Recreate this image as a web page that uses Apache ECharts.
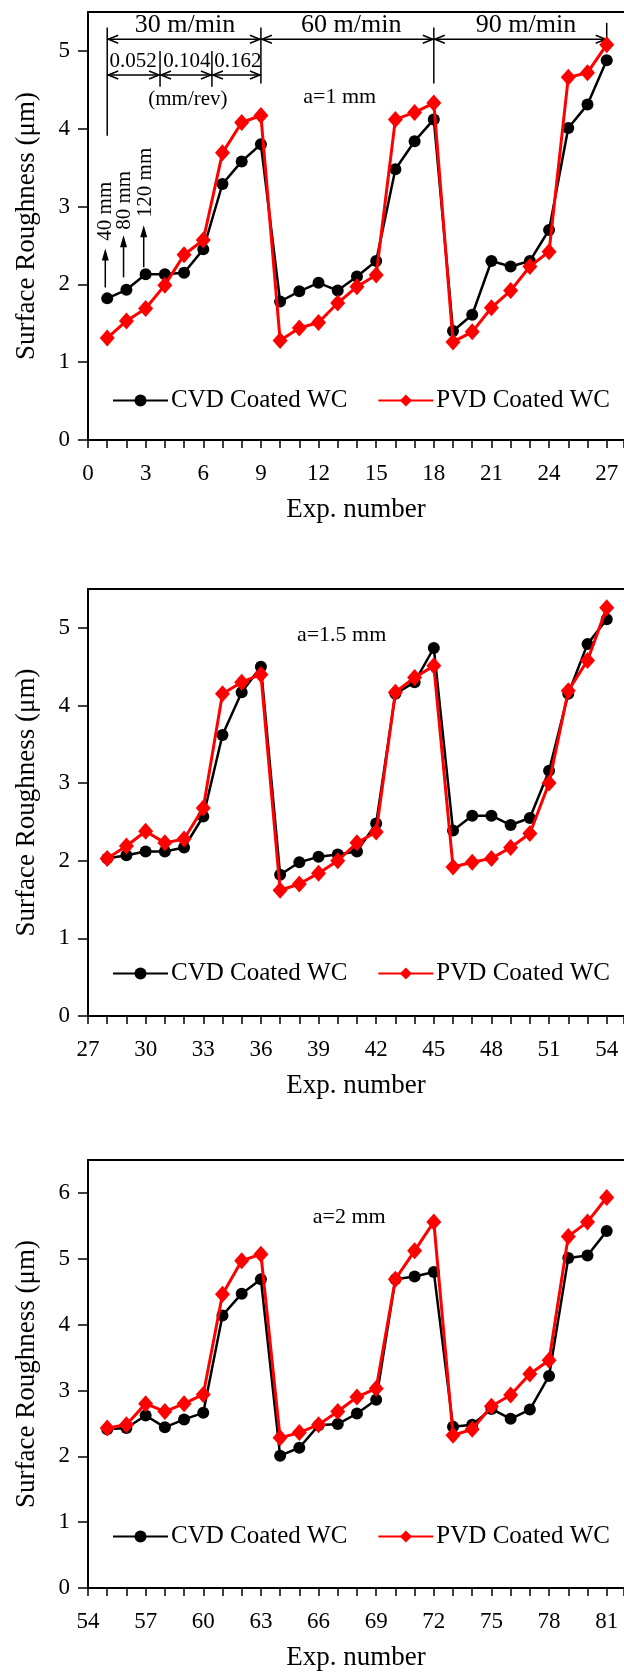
<!DOCTYPE html>
<html>
<head>
<meta charset="utf-8">
<script src="https://cdn.jsdelivr.net/npm/echarts@6/dist/echarts.min.js"></script>
<style>
  html, body { margin: 0; padding: 0; background: #fff; }
  #main { width: 624px; height: 1672px; }
</style>
</head>
<body>
<div id="main"></div>
<script>
// experiment numbers for each depth of cut
var exp1 = [1, 2, 3, 4, 5, 6, 7, 8, 9, 10, 11, 12, 13, 14, 15, 16, 17, 18, 19, 20, 21, 22, 23, 24, 25, 26, 27];
var exp2 = [28, 29, 30, 31, 32, 33, 34, 35, 36, 37, 38, 39, 40, 41, 42, 43, 44, 45, 46, 47, 48, 49, 50, 51, 52, 53, 54];
var exp3 = [55, 56, 57, 58, 59, 60, 61, 62, 63, 64, 65, 66, 67, 68, 69, 70, 71, 72, 73, 74, 75, 76, 77, 78, 79, 80, 81];

// surface roughness (um), a = 1 mm
var cvd1 = [1.82, 1.93, 2.13, 2.13, 2.15, 2.45, 3.29, 3.58, 3.80, 1.78, 1.91, 2.02, 1.92, 2.10, 2.30, 3.48, 3.84, 4.12, 1.40, 1.61, 2.30, 2.23, 2.30, 2.70, 4.01, 4.31, 4.88];
var pvd1 = [1.31, 1.53, 1.69, 1.99, 2.38, 2.57, 3.69, 4.08, 4.17, 1.28, 1.44, 1.51, 1.76, 1.97, 2.12, 4.12, 4.21, 4.33, 1.26, 1.39, 1.70, 1.92, 2.23, 2.42, 4.66, 4.72, 5.08];
// a = 1.5 mm
var cvd2 = [2.03, 2.07, 2.12, 2.12, 2.17, 2.57, 3.62, 4.17, 4.50, 1.82, 1.98, 2.05, 2.08, 2.12, 2.48, 4.15, 4.30, 4.74, 2.39, 2.58, 2.58, 2.46, 2.55, 3.16, 4.15, 4.79, 5.11];
var pvd2 = [2.03, 2.19, 2.38, 2.23, 2.28, 2.68, 4.15, 4.30, 4.40, 1.62, 1.70, 1.84, 2.00, 2.23, 2.37, 4.17, 4.36, 4.51, 1.92, 1.98, 2.03, 2.17, 2.35, 3.00, 4.19, 4.58, 5.26];
// a = 2 mm
var cvd3 = [2.41, 2.43, 2.62, 2.44, 2.56, 2.66, 4.14, 4.47, 4.69, 2.01, 2.13, 2.47, 2.49, 2.65, 2.86, 4.69, 4.73, 4.80, 2.45, 2.48, 2.72, 2.57, 2.71, 3.22, 5.01, 5.05, 5.42];
var pvd3 = [2.43, 2.48, 2.80, 2.68, 2.80, 2.94, 4.46, 4.97, 5.07, 2.28, 2.36, 2.48, 2.68, 2.90, 3.03, 4.69, 5.12, 5.56, 2.32, 2.41, 2.76, 2.93, 3.25, 3.46, 5.34, 5.56, 5.93];

// tick labels
var xLabels1 = [0, 3, 6, 9, 12, 15, 18, 21, 24, 27];
var xLabels2 = [27, 30, 33, 36, 39, 42, 45, 48, 51, 54];
var xLabels3 = [54, 57, 60, 63, 66, 69, 72, 75, 78, 81];
var yLabels12 = [0, 1, 2, 3, 4, 5];
var yLabels3 = [0, 1, 2, 3, 4, 5, 6];

var cvdName = 'CVD Coated WC';
var pvdName = 'PVD Coated WC';
var depthLabels = ['a=1 mm', 'a=1.5 mm', 'a=2 mm'];
var speedLabels = ['30 m/min', '60 m/min', '90 m/min'];
var feedLabels = ['0.052', '0.104', '0.162'];
var lengthLabels = ['40 mm', '80 mm', '120 mm'];

var FONT = '"Liberation Serif", "Times New Roman", serif';

var panels = [
  { top: 12, height: 428, xMin: 0, xMax: 27.9, yMax: 5.5, xLabels: xLabels1, yLabels: yLabels12, exp: exp1, cvd: cvd1, pvd: pvd1, legendTop: 388 },
  { top: 589, height: 427, xMin: 27, xMax: 54.9, yMax: 5.5, xLabels: xLabels2, yLabels: yLabels12, exp: exp2, cvd: cvd2, pvd: pvd2, legendTop: 961 },
  { top: 1160, height: 430, xMin: 54, xMax: 81.9, yMax: 6.5, xLabels: xLabels3, yLabels: yLabels3, exp: exp3, cvd: cvd3, pvd: pvd3, legendTop: 1524 }
];

function pairs(xs, ys) {
  return xs.map(function (x, i) { return [x, ys[i]]; });
}

var grids = [], xAxes = [], yAxes = [], series = [], legends = [];

panels.forEach(function (p, i) {
  grids.push({ left: 88, right: 0, top: p.top, height: p.height });
  xAxes.push({
    type: 'value', gridIndex: i, min: p.xMin, max: p.xMax, interval: 1,
    name: 'Exp. number', nameLocation: 'middle', nameGap: 56,
    nameTextStyle: { fontFamily: FONT, fontSize: 27, color: '#000' },
    axisLine: { lineStyle: { color: '#000', width: 2 } },
    axisTick: { length: 8, lineStyle: { color: '#000', width: 1.5 } },
    axisLabel: { customValues: p.xLabels, margin: 22, fontFamily: FONT, fontSize: 23, color: '#000' },
    splitLine: { show: false }
  });
  yAxes.push({
    type: 'value', gridIndex: i, min: 0, max: p.yMax, interval: 1,
    name: 'Surface Roughness (μm)', nameLocation: 'middle', nameGap: 48,
    nameTextStyle: { fontFamily: FONT, fontSize: 27, color: '#000' },
    axisLine: { show: true, lineStyle: { color: '#000', width: 2 } },
    axisTick: { show: true, length: 10, customValues: p.yLabels, lineStyle: { color: '#000', width: 1.5 } },
    axisLabel: { customValues: p.yLabels, margin: 18, fontFamily: FONT, fontSize: 23, color: '#000' },
    splitLine: { show: false }
  });
  series.push({
    type: 'line', name: cvdName, xAxisIndex: i, yAxisIndex: i,
    data: pairs(p.exp, p.cvd), symbol: 'circle', symbolSize: 12,
    itemStyle: { color: '#000' }, lineStyle: { color: '#000', width: 2.5 }, z: 3
  });
  series.push({
    type: 'line', name: pvdName, xAxisIndex: i, yAxisIndex: i,
    data: pairs(p.exp, p.pvd), symbol: 'diamond', symbolSize: [15, 17],
    itemStyle: { color: '#ff0000' }, lineStyle: { color: '#ff0000', width: 3 }, z: 4
  });
  legends.push({
    left: 112, top: p.legendTop, padding: 0, itemGap: 30, itemWidth: 55, itemHeight: 15,
    data: [cvdName, pvdName],
    textStyle: { fontFamily: FONT, fontSize: 25, color: '#000', padding: [0, 0, 0, -2] }
  });
});

// top frame lines
panels.forEach(function (p, i) {
  xAxes.push({
    type: 'value', gridIndex: i, position: 'top', min: p.xMin, max: p.xMax,
    axisLine: { show: true, onZero: false, lineStyle: { color: '#000', width: 2 } },
    axisTick: { show: false }, axisLabel: { show: false }, splitLine: { show: false }
  });
});

var chart = echarts.init(document.getElementById('main'));
chart.setOption({
  animation: false,
  backgroundColor: '#fff',
  grid: grids,
  xAxis: xAxes,
  yAxis: yAxes,
  legend: legends,
  series: series
});

// annotations, placed in data coordinates of each panel
function px(panel, x, y) {
  return chart.convertToPixel({ xAxisIndex: panel, yAxisIndex: panel }, [x, y]);
}
var g = [];
function text(panel, x, y, str, size, rot) {
  var p = px(panel, x, y);
  g.push({
    type: 'text', x: p[0], y: p[1], rotation: rot || 0,
    style: { text: str, fontFamily: FONT, fontSize: size, fill: '#000', align: 'center', verticalAlign: 'middle' }
  });
}
function seg(panel, x1, y1, x2, y2) {
  var a = px(panel, x1, y1), b = px(panel, x2, y2);
  g.push({ type: 'line', shape: { x1: a[0], y1: a[1], x2: b[0], y2: b[1] }, style: { stroke: '#000', lineWidth: 1.5 } });
}
function hArrow(panel, x1, x2, y) {
  var a = px(panel, x1, y), b = px(panel, x2, y);
  g.push({ type: 'line', shape: { x1: a[0], y1: a[1], x2: b[0], y2: b[1] }, style: { stroke: '#000', lineWidth: 1.5 } });
  g.push({ type: 'polyline', shape: { points: [[a[0] + 11, a[1] - 4], [a[0] + 1, a[1]], [a[0] + 11, a[1] + 4]] }, style: { stroke: '#000', lineWidth: 1.5, fill: null } });
  g.push({ type: 'polyline', shape: { points: [[b[0] - 11, b[1] - 4], [b[0] - 1, b[1]], [b[0] - 11, b[1] + 4]] }, style: { stroke: '#000', lineWidth: 1.5, fill: null } });
}
function upArrow(panel, x, y1, y2) {
  var a = px(panel, x, y1), b = px(panel, x, y2);
  g.push({ type: 'line', shape: { x1: a[0], y1: a[1], x2: b[0], y2: b[1] + 6 }, style: { stroke: '#000', lineWidth: 1.5 } });
  g.push({ type: 'polygon', shape: { points: [[b[0] - 3.5, b[1] + 12], [b[0], b[1]], [b[0] + 3.5, b[1] + 12]] }, style: { fill: '#000' } });
}

// cutting speed row
seg(0, 1, 3.91, 1, 5.30);
seg(0, 9, 4.58, 9, 5.30);
seg(0, 18, 4.58, 18, 5.30);
seg(0, 27, 5.15, 27, 5.36);
hArrow(0, 1, 9, 5.15);
hArrow(0, 9, 18, 5.15);
hArrow(0, 18, 27, 5.15);
text(0, 5.05, 5.33, speedLabels[0], 26);
text(0, 13.7, 5.33, speedLabels[1], 26);
text(0, 22.8, 5.33, speedLabels[2], 26);
// feed rate row
seg(0, 3.75, 4.54, 3.75, 5.0);
seg(0, 6.45, 4.54, 6.45, 5.0);
hArrow(0, 1, 3.75, 4.69);
hArrow(0, 3.75, 6.45, 4.69);
hArrow(0, 6.45, 9, 4.69);
text(0, 2.35, 4.86, feedLabels[0], 21);
text(0, 5.15, 4.86, feedLabels[1], 21);
text(0, 7.8, 4.86, feedLabels[2], 21);
text(0, 5.2, 4.37, '(mm/rev)', 21);
// cutting length arrows
upArrow(0, 0.9, 1.96, 2.46);
upArrow(0, 1.85, 2.09, 2.63);
upArrow(0, 2.9, 2.22, 2.76);
text(0, 0.9, 2.94, lengthLabels[0], 21, Math.PI / 2);
text(0, 1.9, 3.08, lengthLabels[1], 21, Math.PI / 2);
text(0, 3.0, 3.31, lengthLabels[2], 21, Math.PI / 2);
// depth of cut labels
text(0, 13.1, 4.40, depthLabels[0], 22);
text(1, 40.2, 4.91, depthLabels[1], 22);
text(2, 67.6, 5.63, depthLabels[2], 22);

chart.setOption({ graphic: g });
</script>
</body>
</html>
